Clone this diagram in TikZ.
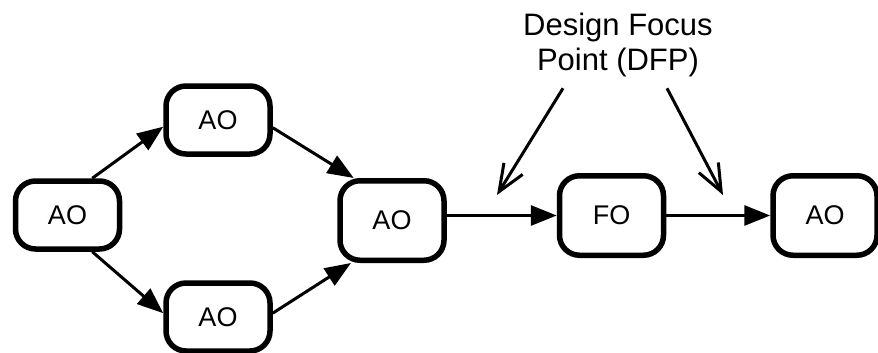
\documentclass[tikz,border=0pt]{standalone}
\usepackage{fontspec}
\setmainfont{Liberation Sans}
\usetikzlibrary{arrows.meta}

\tikzset{
  obox/.style={draw, line width=5.5pt, rounded corners=20pt, inner sep=0pt,
    minimum width=104pt, font=\fontsize{27}{31}\selectfont},
  shortbox/.style={obox, minimum height=68pt},
  tallbox/.style={obox, minimum height=79.5pt},
  flow/.style={line width=3pt, -{Triangle[length=26pt,width=20pt]}},
  pointer/.style={line width=3pt, -{Straight Barb[length=27pt,width=22pt,line width=3pt]}},
}

\begin{document}
\begin{tikzpicture}[x=1pt,y=-1pt]
  \useasboundingbox (0,0) rectangle (878,353);

  % activity / focus objects
  \node[shortbox] (a1) at (67.5,215) {AO};
  \node[shortbox] (a2) at (218,120) {AO};
  \node[shortbox] (a3) at (218,317) {AO};
  \node[tallbox]  (a4) at (392,220.5) {AO};
  \node[tallbox]  (fo) at (611.5,215.5) {FO};
  \node[tallbox]  (a5) at (825,215.5) {AO};

  % flow between the objects
  \draw[flow] (a1.56.5) -- (a2.187);
  \draw[flow] (a1.-56.5) -- (a3.176);
  \draw[flow] (a2.-8) -- (a4.132.5);
  \draw[flow] (a3.4) -- (a4.226);
  \draw[flow] (a4.east |- fo.west) -- (fo.west);
  \draw[flow] (fo.east) -- (a5.west);

  % design focus point callout
  \node[anchor=north, inner sep=0pt, align=center,
        font=\fontsize{31}{35}\selectfont] (dfp) at (618,13)
        {Design Focus\\Point (DFP)};
  \coordinate (t1) at (497,195);
  \coordinate (t2) at (723,195);
  \draw[pointer] ([xshift=-55pt,yshift=-11pt]dfp.south) -- (t1);
  \draw[pointer] ([xshift=49pt,yshift=-11pt]dfp.south) -- (t2);
\end{tikzpicture}
\end{document}
